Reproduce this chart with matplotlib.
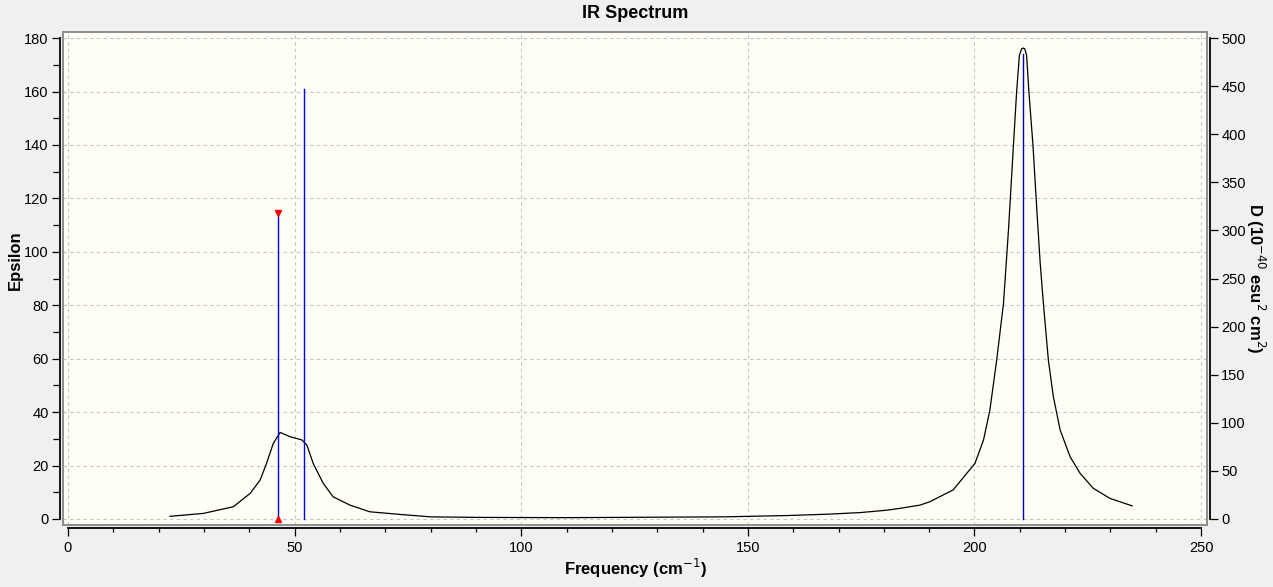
import matplotlib
matplotlib.use("Agg")
import matplotlib.pyplot as plt
from matplotlib.patches import Rectangle
from matplotlib.ticker import MultipleLocator

# spectrum curve (frequency cm-1, epsilon)
freq = [22.5, 29.9, 36.5, 40.2, 42.4, 43.8, 45.3, 46.8, 49.0, 51.6, 52.7, 54.1,
        56.3, 58.5, 62.2, 66.6, 73.3, 80.0, 90.0, 110.0, 144.8, 158.9, 167.7,
        174.8, 180.7, 183.6, 188.0, 190.2, 195.3, 198.3, 200.1, 202.0, 203.4,
        204.9, 206.4, 207.5, 208.6, 209.3, 209.9, 210.4, 210.8, 211.1, 211.5,
        212.0, 212.9, 213.8, 214.5, 215.2, 216.3, 217.4, 218.9, 221.1, 223.3,
        226.2, 229.9, 234.8]
epsilon = [1.0, 2.1, 4.6, 9.6, 14.6, 20.8, 28.3, 32.4, 30.8, 29.6, 27.7, 20.8,
           13.4, 8.3, 5.2, 2.7, 1.7, 0.8, 0.6, 0.5, 0.8, 1.3, 1.8,
           2.4, 3.3, 4.0, 5.2, 6.5, 10.9, 17.1, 20.8, 29.6, 40.8,
           59.5, 80.7, 108.2, 140.0, 160.0, 173.5, 176.0, 176.3, 176.0, 173.5,
           160.0, 140.0, 114.4, 95.7, 80.7, 59.5, 45.8, 33.3, 23.3, 17.1,
           11.5, 7.7, 4.9]

# stick spectrum (frequency, D in 1e-40 esu^2 cm^2)
stick_freq = [46.4, 52.1, 210.7]
stick_D = [318, 447, 483]
stick_colors = ["#0000ff", "#0000ff", "#0000b4"]
marked = 0  # index of the stick with the red markers

x_ticks = [0, 50, 100, 150, 200, 250]
eps_ticks = list(range(0, 181, 20))
D_ticks = list(range(0, 501, 50))

plt.rcParams['font.family'] = ['Liberation Sans Narrow', 'Liberation Sans', 'DejaVu Sans']

W, H = 1273, 587
fig = plt.figure(figsize=(W / 100, H / 100), dpi=100, facecolor="#f0f0f0")
ax = fig.add_axes([63 / W, (H - 525) / H, (1207 - 63) / W, (525 - 32) / H])
ax.set_facecolor("#fefef6")

eps_lo, eps_hi = -2.25, 182.3
ax.set_xlim(-1.1, 251.3)
ax.set_ylim(eps_lo, eps_hi)

ax.set_xticks(x_ticks)
ax.set_yticks(eps_ticks)
ax.xaxis.set_minor_locator(MultipleLocator(10))
ax.yaxis.set_minor_locator(MultipleLocator(10))
ax.grid(True, which="major", color="#c4c4c4", linestyle=(0, (3, 3)), linewidth=0.8)
ax.set_axisbelow(True)

for s in ["top", "right"]:
    ax.spines[s].set_visible(False)
ax.spines["left"].set_position(("outward", 2.2))
ax.spines["left"].set_bounds(0, 180)
ax.spines["bottom"].set_position(("outward", 2.4))
ax.spines["bottom"].set_bounds(0, 250)
for s in ["left", "bottom"]:
    ax.spines[s].set_linewidth(1.3)

ax.tick_params(axis="y", which="major", direction="out", length=6, width=0.9, labelsize=10.5, pad=2)
ax.tick_params(axis="y", which="minor", direction="out", length=5, width=0.9)
ax.tick_params(axis="x", which="major", direction="out", length=6, width=0.9, labelsize=10.5, pad=3)
ax.tick_params(axis="x", which="minor", direction="out", length=3, width=0.9)

# grey frame round the plot area
ax.add_patch(Rectangle((0, 0), 1, 1, transform=ax.transAxes, fill=False,
                       edgecolor="#8c8c8c", linewidth=1.4, clip_on=False, zorder=5))

ax.plot(freq, epsilon, color="black", linewidth=0.9, zorder=3)

ax2 = ax.twinx()
ax2.set_ylim(eps_lo * 500 / 180, eps_hi * 500 / 180)
ax2.set_yticks(D_ticks)
for s in ["top", "left", "bottom"]:
    ax2.spines[s].set_visible(False)
ax2.spines["right"].set_position(("outward", 2.2))
ax2.spines["right"].set_bounds(0, 500)
ax2.spines["right"].set_linewidth(1.3)
ax2.tick_params(axis="y", direction="out", length=6, width=0.9, labelsize=10.5, pad=2)

for f, d, c in zip(stick_freq, stick_D, stick_colors):
    ax2.plot([f, f], [0, d], color=c, linewidth=1.0, zorder=2)
ax2.plot([stick_freq[marked]], [stick_D[marked]], marker="v", color="red", markersize=5, linestyle="none")
ax2.plot([stick_freq[marked]], [0], marker="^", color="red", markersize=5, linestyle="none")

fig.text(635 / W, 1 - 14 / H, "IR Spectrum", ha="center", va="center",
         fontsize=13, fontweight="bold", family=["Liberation Sans", "DejaVu Sans"])
fig.text(635 / W, 1 - 568 / H, "Frequency (cm$^{-1}$)", ha="center", va="center",
         fontsize=12, fontweight="bold", family=["Liberation Sans", "DejaVu Sans"])
fig.text(15 / W, 1 - 260 / H, "Epsilon", ha="center", va="center", rotation=90,
         fontsize=12, fontweight="bold", family=["Liberation Sans", "DejaVu Sans"])
fig.text(1256 / W, 1 - 278 / H, "D (10$^{-40}$ esu$^{2}$ cm$^{2}$)", ha="center", va="center",
         rotation=-90, fontsize=12, fontweight="bold", family=["Liberation Sans", "DejaVu Sans"])

fig.savefig("out.png", dpi=100, facecolor=fig.get_facecolor())
